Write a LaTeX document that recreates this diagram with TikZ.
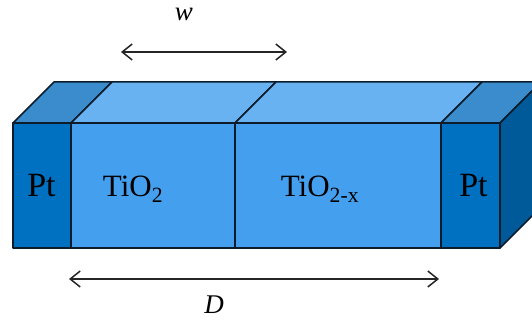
\documentclass[tikz,border=0pt]{standalone}
\usepackage{fontspec}
\setmainfont{Liberation Serif}
\usetikzlibrary{arrows.meta}
\definecolor{ptfront}{HTML}{0070C0}
\definecolor{pttop}{HTML}{3A8CCC}
\definecolor{ptside}{HTML}{005A9A}
\definecolor{tifront}{HTML}{449FEE}
\definecolor{titop}{HTML}{69B2F2}
\definecolor{edge}{HTML}{0C1C2A}
\tikzset{
  face/.style={draw=edge,line width=1.5pt,line join=round},
  dim/.style={draw=black!85,line width=1.5pt,{Straight Barb[length=10pt,width=16pt,line width=1.5pt]}-{Straight Barb[length=10pt,width=16pt,line width=1.5pt]}},
  lab/.style={inner sep=0pt,anchor=base,font=\fontsize{31}{31}\selectfont},
  ptlab/.style={inner sep=0pt,anchor=base,font=\fontsize{34}{34}\selectfont},
  dimlab/.style={inner sep=0pt,anchor=base,font=\fontsize{27}{27}\selectfont\itshape}
}
\begin{document}
\begin{tikzpicture}[x=1pt,y=-1pt]
\useasboundingbox (0,0) rectangle (532,320);
\begin{scope}
\clip (0,0) rectangle (532,320);
\fill[white] (0,0) rectangle (532,320);
% top faces
\draw[face,fill=pttop] (13,123) -- (54,82) -- (112,82) -- (71,123) -- cycle;
\draw[face,fill=titop] (71,123) -- (112,82) -- (276,82) -- (235,123) -- cycle;
\draw[face,fill=titop] (235,123) -- (276,82) -- (482,82) -- (441,123) -- cycle;
\draw[face,fill=pttop] (441,123) -- (482,82) -- (541,82) -- (500,123) -- cycle;
% side face
\draw[face,fill=ptside] (500,123) -- (541,82) -- (541,207) -- (500,248) -- cycle;
% front faces
\draw[face,fill=ptfront] (13,123) rectangle (71,248);
\draw[face,fill=tifront] (71,123) rectangle (235,248);
\draw[face,fill=tifront] (235,123) rectangle (441,248);
\draw[face,fill=ptfront] (441,123) rectangle (500,248);
\end{scope}
\node[ptlab] (pta) at (41.5,197) {Pt};
\node[lab] (tia) at (133,197) {TiO\textsubscript{2}};
\node[lab] (tib) at (320,197) {TiO\textsubscript{2-x}};
\node[ptlab] (ptb) at (473.5,197) {Pt};
\coordinate (wl) at (121,52);
\coordinate (wr) at (287,52);
\coordinate (dl) at (69,279);
\coordinate (dr) at (439,279);
\draw[dim] (wl) -- (wr);
\draw[dim] (dl) -- (dr);
\node[dimlab] (w) at (184,21) {w};
\node[dimlab] (d) at (214,313) {D};
\end{tikzpicture}
\end{document}
